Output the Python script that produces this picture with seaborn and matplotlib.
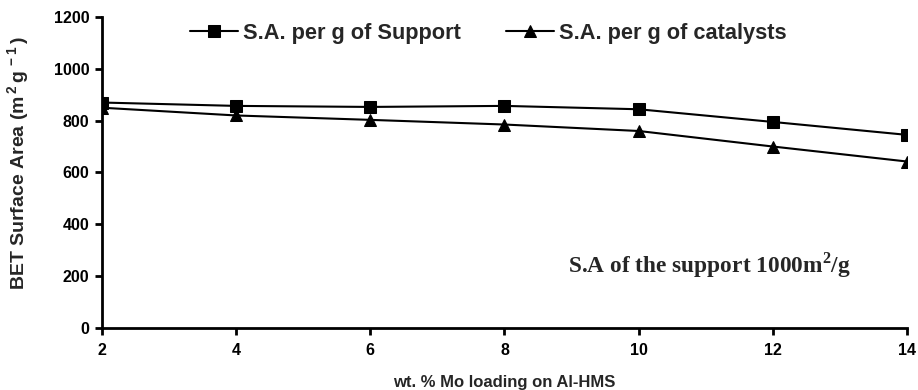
import matplotlib
matplotlib.use("Agg")
import matplotlib.pyplot as plt
import seaborn as sns
import pandas as pd

loading = [2, 4, 6, 8, 10, 12, 14]
sa_support = [870, 857, 853, 857, 844, 795, 745]
sa_catalyst = [850, 820, 803, 785, 760, 700, 642]
series_names = ["S.A. per g of Support", "S.A. per g of catalysts"]

df = pd.DataFrame({
    "x": loading * 2,
    "y": sa_support + sa_catalyst,
    "series": [series_names[0]] * len(loading) + [series_names[1]] * len(loading),
})

sns.set_style("ticks")
plt.rcParams["font.family"] = ["Liberation Sans", "DejaVu Sans"]
plt.rcParams["mathtext.fontset"] = "custom"
plt.rcParams["mathtext.bf"] = "Liberation Serif:bold"
plt.rcParams["mathtext.sf"] = "Liberation Sans:bold"
plt.rcParams["mathtext.rm"] = "Liberation Sans:bold"

fig = plt.figure(figsize=(9.18, 3.9), dpi=100)
ax = fig.add_axes([0.111, 0.160, 0.877, 0.796])

sns.lineplot(data=df, x="x", y="y", hue="series", style="series",
             markers={series_names[0]: "s", series_names[1]: "^"},
             dashes=False, palette={series_names[0]: "black", series_names[1]: "black"},
             markersize=9, linewidth=1.5, markeredgecolor="black", ax=ax)

ax.set_xlim(2, 14)
ax.set_ylim(0, 1200)
ax.set_xticks(loading)
ax.set_yticks([0, 200, 400, 600, 800, 1000, 1200])
for s in ["top", "right"]:
    ax.spines[s].set_visible(False)
for s in ["left", "bottom"]:
    ax.spines[s].set_linewidth(2)
    ax.spines[s].set_color("black")
ax.tick_params(axis="both", length=5, width=2, labelsize=11.5, colors="black")
for lab in ax.get_xticklabels() + ax.get_yticklabels():
    lab.set_fontweight("bold")
ax.xaxis.set_tick_params(pad=6)
ax.yaxis.set_tick_params(pad=4)

ax.set_xlabel("wt. % Mo loading on Al-HMS", fontsize=12, fontweight="bold", labelpad=12)
ax.set_ylabel(r"BET Surface Area (m$^{\mathsf{\,2}}\,$g$^{\mathsf{\,-1}}\,$)", fontsize=14,
              fontweight="bold")
ax.yaxis.set_label_coords(-0.087, 0.53)

leg = ax.legend(loc="upper center", bbox_to_anchor=(0.48, 1.045), ncol=2, frameon=False,
                prop={"size": 15.7, "weight": "bold"}, handlelength=2.2, columnspacing=2.1,
                handletextpad=0.2)

ax.text(8.95, 242, r"S.A of the support 1000m$^{\mathbf{2}}$/g", fontsize=16.8,
        fontweight="bold", family=["Liberation Serif", "DejaVu Serif"], va="center", ha="left")

fig.savefig("out.png", dpi=100)
